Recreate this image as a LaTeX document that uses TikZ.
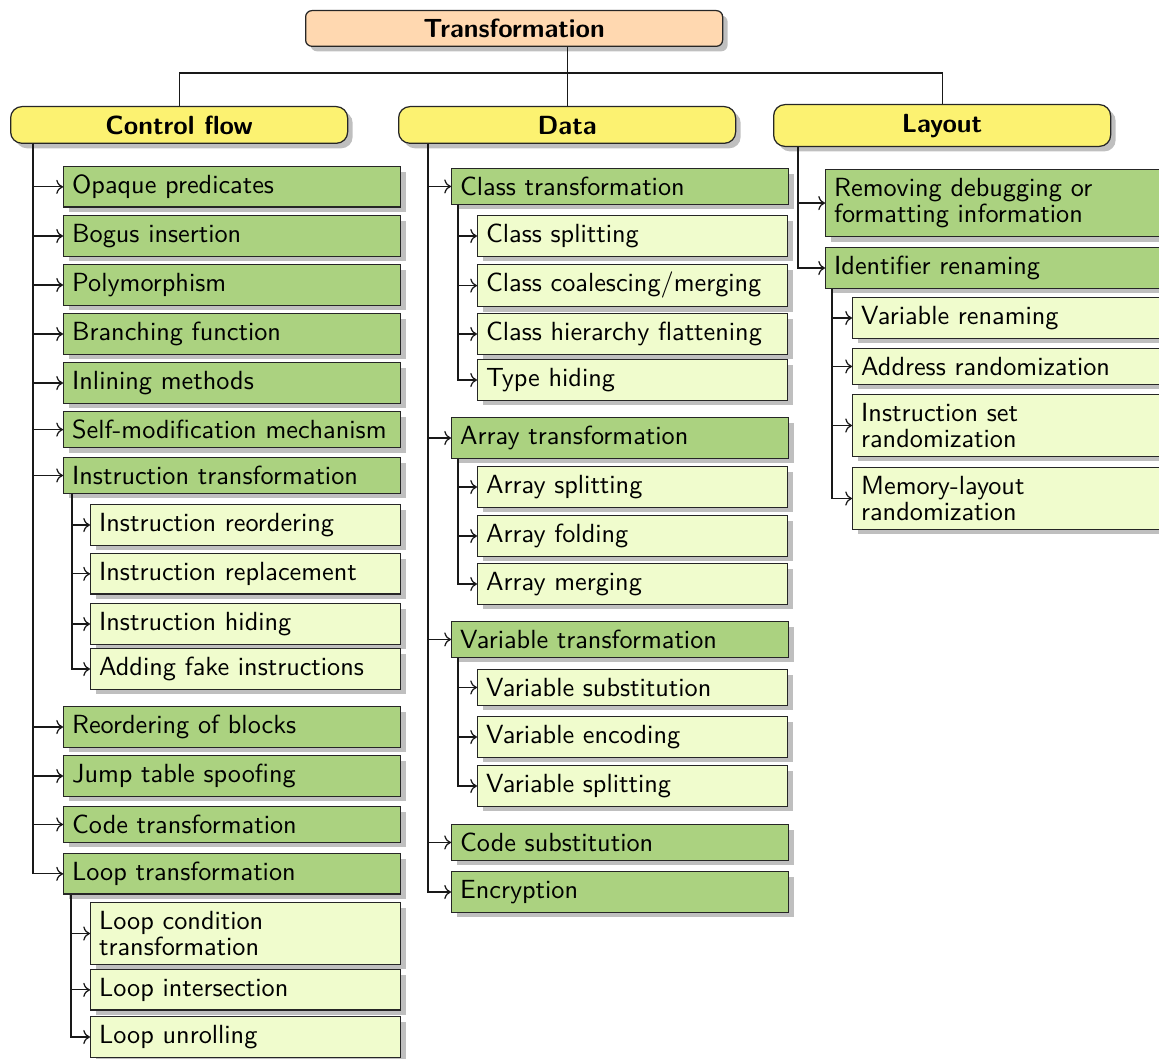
\documentclass[tikz,border=0pt]{standalone}
\usetikzlibrary{shadows,arrows.meta}
\definecolor{gfill}{HTML}{ABD280}
\definecolor{lfill}{HTML}{F0FCCD}
\definecolor{yfill}{HTML}{FCF271}
\definecolor{pfill}{HTML}{FFD8B0}
\tikzset{
  shad/.style={drop shadow={shadow xshift=2pt, shadow yshift=-2pt, opacity=0.5, fill=black!50}},
  basebox/.style={draw=black!85, line width=0.5pt, shad, anchor=north west,
    font=\sffamily\fontsize{10.5}{12.6}\selectfont,
    inner xsep=3.4pt, inner ysep=3.4pt, align=left},
  gbox/.style={basebox, fill=gfill, text width=128pt, text height=7.35pt},
  lbox/.style={basebox, fill=lfill, text width=117.2pt, text height=7.35pt},
  gboxtwo/.style={basebox, fill=gfill, text width=128pt, font=\sffamily\fontsize{10.5}{10.5}\selectfont},
  lboxtwo/.style={basebox, fill=lfill, text width=117.2pt, font=\sffamily\fontsize{10.5}{10.5}\selectfont},
  catbox/.style={draw=black!85, line width=0.5pt, shad, anchor=north west, fill=yfill,
    rounded corners=4.5pt, font=\sffamily\bfseries\fontsize{10.5}{12.6}\selectfont,
    minimum width=134.8pt, inner ysep=3.6pt, text height=7.35pt},
  rootbox/.style={draw=black!85, line width=0.5pt, shad, anchor=north west, fill=pfill,
    rounded corners=2.5pt, font=\sffamily\bfseries\fontsize{10.5}{12.6}\selectfont,
    minimum width=166.8pt, inner ysep=3.4pt, text height=7.35pt},
  link/.style={line width=0.5pt, black!90},
  arr/.style={link, ->},
}
\begin{document}
\begin{tikzpicture}[x=0.4pt, y=-0.4pt]
\useasboundingbox (0,0) rectangle (1159,1059);
\clip (0,0) rectangle (1159,1059);

% root and categories
\node[rootbox] (root) at (305,10) {Transformation};
\node[catbox] (cf) at (10,106) {Control flow};
\node[catbox] (dat) at (398,106) {Data};
\node[catbox] (lay) at (773,104) {Layout};

% control flow
\node[gbox] (cf1) at (63,166) {Opaque predicates};
\node[gbox] (cf2) at (63,215) {Bogus insertion};
\node[gbox] (cf3) at (63,264) {Polymorphism};
\node[gbox] (cf4) at (63,313) {Branching function};
\node[gbox] (cf5) at (63,362) {Inlining methods};
\node[gbox] (cf6) at (63,411) {Self-modification mechanism};
\node[gbox] (cf7) at (63,457) {Instruction transformation};
\node[lbox] (cf7a) at (90,504) {Instruction reordering};
\node[lbox] (cf7b) at (90,553) {Instruction replacement};
\node[lbox] (cf7c) at (90,603) {Instruction hiding};
\node[lbox] (cf7d) at (90,648) {Adding fake instructions};
\node[gbox] (cf8) at (63,706) {Reordering of blocks};
\node[gbox] (cf9) at (63,755) {Jump table spoofing};
\node[gbox] (cf10) at (63,806) {Code transformation};
\node[gbox] (cf11) at (63,853) {Loop transformation};
\node[lboxtwo] (cf11a) at (90,902) {Loop condition\\transformation};
\node[lbox] (cf11b) at (90,969) {Loop intersection};
\node[lbox] (cf11c) at (90,1016) {Loop unrolling};

% data
\node[gbox] (d1) at (451,168) {Class transformation};
\node[lbox] (d1a) at (477,215) {Class splitting};
\node[lbox] (d1b) at (477,264) {Class coalescing/merging};
\node[lbox] (d1c) at (477,313) {Class hierarchy flattening};
\node[lbox] (d1d) at (477,359) {Type hiding};
\node[gbox] (d2) at (451,417) {Array transformation};
\node[lbox] (d2a) at (477,466) {Array splitting};
\node[lbox] (d2b) at (477,515) {Array folding};
\node[lbox] (d2c) at (477,563) {Array merging};
\node[gbox] (d3) at (451,621) {Variable transformation};
\node[lbox] (d3a) at (477,669) {Variable substitution};
\node[lbox] (d3b) at (477,716) {Variable encoding};
\node[lbox] (d3c) at (477,765) {Variable splitting};
\node[gbox] (d4) at (451,824) {Code substitution};
\node[gbox] (d5) at (451,871) {Encryption};

% layout
\node[gboxtwo] (ly1) at (825,169) {Removing debugging or\\formatting information};
\node[gbox] (ly2) at (825,247) {Identifier renaming};
\node[lbox] (ly2a) at (852,297) {Variable renaming};
\node[lbox] (ly2b) at (852,348) {Address randomization};
\node[lboxtwo] (ly2c) at (852,394) {Instruction set\\randomization};
\node[lboxtwo] (ly2d) at (852,467) {Memory-layout\\randomization};

% top connectors
\coordinate (hb) at (566,73);
\draw[link] (root.south -| dat.north) -- (dat.north);
\draw[link] (cf.north) |- (hb) -| (lay.north);

% trunks
\foreach \n in {cf1,cf2,cf3,cf4,cf5,cf6,cf7,cf8,cf9,cf10,cf11}
  \draw[arr] ([xshift=9.2pt]cf.south west) |- (\n.west);
\foreach \n in {cf7a,cf7b,cf7c,cf7d}
  \draw[arr] ([xshift=3.6pt]cf7.south west) |- (\n.west);
\foreach \n in {cf11a,cf11b,cf11c}
  \draw[arr] ([xshift=3.2pt]cf11.south west) |- (\n.west);

\foreach \n in {d1,d2,d3,d4,d5}
  \draw[arr] ([xshift=12pt]dat.south west) |- (\n.west);
\foreach \n in {d1a,d1b,d1c,d1d}
  \draw[arr] ([xshift=2.8pt]d1.south west) |- (\n.west);
\foreach \n in {d2a,d2b,d2c}
  \draw[arr] ([xshift=2.8pt]d2.south west) |- (\n.west);
\foreach \n in {d3a,d3b,d3c}
  \draw[arr] ([xshift=2.8pt]d3.south west) |- (\n.west);

\foreach \n in {ly1,ly2}
  \draw[arr] ([xshift=10pt]lay.south west) |- (\n.west);
\foreach \n in {ly2a,ly2b,ly2c,ly2d}
  \draw[arr] ([xshift=2.8pt]ly2.south west) |- (\n.west);
\end{tikzpicture}
\end{document}
